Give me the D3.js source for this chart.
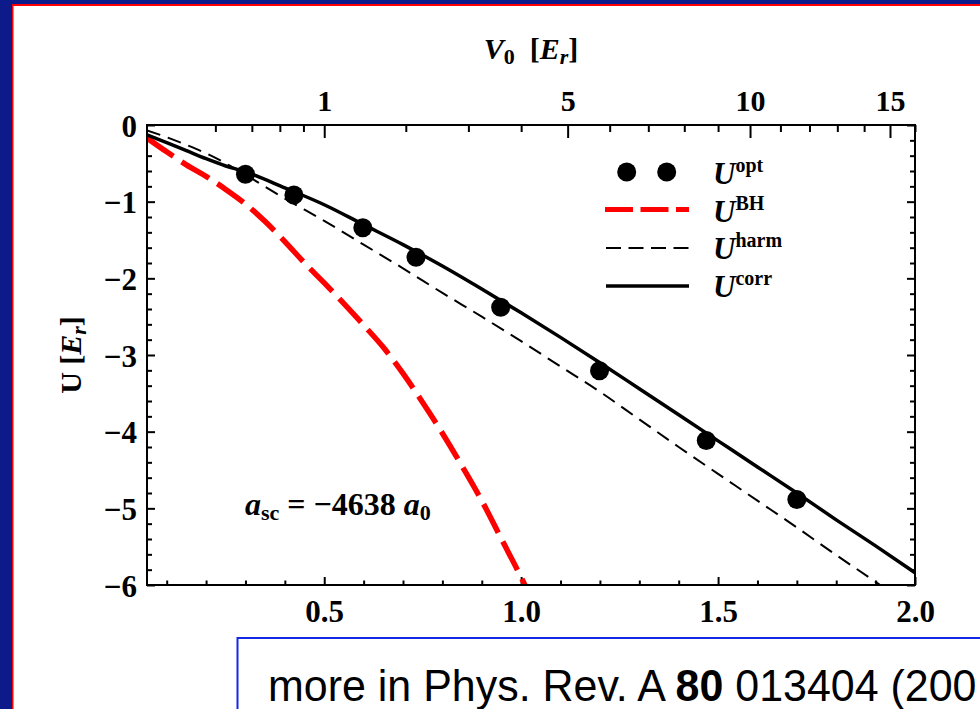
<!DOCTYPE html>
<html><head><meta charset="utf-8">
<script src="https://cdn.jsdelivr.net/npm/d3@7"></script>
<style>
html,body{margin:0;padding:0;background:#fff;}
svg{display:block;}
</style></head><body>
<svg id="chart" width="980" height="709"></svg>
<script>
// ---------- data ----------
const optX = [0.300, 0.423, 0.598, 0.733, 0.948, 1.199, 1.470, 1.700];
const optU = [-0.643, -0.913, -1.340, -1.726, -2.378, -3.205, -4.116, -4.885];

const corrX = [0.05, 0.1, 0.15, 0.2, 0.25, 0.3, 0.4, 0.5, 0.6, 0.7, 0.8, 0.9, 1.0, 1.1, 1.2, 1.3, 1.4, 1.5, 1.6, 1.7, 1.8, 1.9, 2.0];
const corrU = [-0.13, -0.23, -0.335, -0.44, -0.535, -0.61, -0.82, -1.04, -1.30, -1.56, -1.84, -2.14, -2.45, -2.77, -3.10, -3.44, -3.78, -4.12, -4.46, -4.80, -5.15, -5.49, -5.84];

const harmX = [0.05, 0.1, 0.15, 0.2, 0.25, 0.3, 0.4, 0.5, 0.6, 0.7, 0.8, 0.9, 1.0, 1.1, 1.2, 1.3, 1.4, 1.5, 1.6, 1.7, 1.8, 1.9, 1.95];
const harmU = [-0.07, -0.16, -0.26, -0.37, -0.50, -0.65, -0.96, -1.25, -1.56, -1.87, -2.19, -2.50, -2.82, -3.15, -3.48, -3.84, -4.20, -4.55, -4.90, -5.25, -5.61, -5.96, -6.14];

const bhX = [0.05, 0.1, 0.15, 0.2, 0.25, 0.3, 0.35, 0.4, 0.45, 0.5, 0.55, 0.6, 0.65, 0.7, 0.75, 0.8, 0.85, 0.9, 0.95, 1.0, 1.03];
const bhU = [-0.17, -0.35, -0.52, -0.67, -0.84, -1.03, -1.26, -1.52, -1.80, -2.06, -2.33, -2.61, -2.90, -3.24, -3.62, -4.02, -4.45, -4.90, -5.40, -5.90, -6.22];

const bottomMajor = [0.5, 1.0, 1.5, 2.0];
const bottomMinor = [0.1, 0.2, 0.3, 0.4, 0.6, 0.7, 0.8, 0.9, 1.1, 1.2, 1.3, 1.4, 1.6, 1.7, 1.8, 1.9];
const topMajor = [1, 5, 10, 15];
const topMinor = [0.2, 0.4, 0.6, 0.8, 2, 3, 4, 6, 7, 8, 9, 11, 12, 13, 14, 16];
const leftMajor = [0, -1, -2, -3, -4, -5, -6];
const leftMinor = [-0.2, -0.4, -0.6, -0.8, -1.2, -1.4, -1.6, -1.8, -2.2, -2.4, -2.6, -2.8, -3.2, -3.4, -3.6, -3.8, -4.2, -4.4, -4.6, -4.8, -5.2, -5.4, -5.6, -5.8];

const legendLabels = ["opt", "BH", "harm", "corr"];

// ---------- setup ----------
const W = 980, H = 709;
const svg = d3.select("#chart");
const serif = "'Liberation Serif','Times New Roman',serif";
const sans = "'Liberation Sans',Arial,sans-serif";

svg.append("rect").attr("width", W).attr("height", H).attr("fill", "#0c1a8a");
svg.append("rect").attr("x", 12).attr("y", 4).attr("width", W).attr("height", H).attr("fill", "#ff0000");
svg.append("rect").attr("x", 13.5).attr("y", 6).attr("width", W).attr("height", H).attr("fill", "#ffffff");

const L = 147, R = 915, T = 125, B = 585;
const x = d3.scaleLinear().domain([0.05, 2.0]).range([L, R]);
const y = d3.scaleLinear().domain([-6, 0]).range([B, T]);
const v = d3.scalePow().exponent(0.5).domain([0.01, 16]).range([L, R]);

function styleAxis(g, fs) {
  g.select(".domain").remove();
  g.attr("font-family", null).attr("font-size", null);
  g.selectAll(".tick line").attr("stroke", "#000").attr("stroke-width", 2);
  g.selectAll("text").attr("fill", "#000")
    .style("font-family", serif).style("font-weight", "bold").style("font-size", (fs || 31) + "px");
}
const minusFmt = d => d === 0 ? "0" : "\u2212" + Math.abs(d);

// bottom
svg.append("g").attr("transform", `translate(0,${B})`)
  .call(d3.axisBottom(x).tickValues(bottomMajor).tickFormat(d3.format(".1f")).tickSize(-8).tickPadding(15))
  .call(g => styleAxis(g));
svg.append("g").attr("transform", `translate(0,${B})`)
  .call(d3.axisBottom(x).tickValues(bottomMinor).tickFormat("").tickSize(-4.5))
  .call(g => styleAxis(g));
// top
svg.append("g").attr("transform", `translate(0,${T})`)
  .call(d3.axisTop(v).tickValues(topMajor).tickFormat(d3.format("d")).tickSize(-13).tickPadding(14))
  .call(g => styleAxis(g, 30));
svg.append("g").attr("transform", `translate(0,${T})`)
  .call(d3.axisTop(v).tickValues(topMinor).tickFormat("").tickSize(-7))
  .call(g => styleAxis(g));
// left
svg.append("g").attr("transform", `translate(${L},0)`)
  .call(d3.axisLeft(y).tickValues(leftMajor).tickFormat(minusFmt).tickSize(-8).tickPadding(10))
  .call(g => { styleAxis(g); g.selectAll("text").attr("dy", "0.36em"); });
svg.append("g").attr("transform", `translate(${L},0)`)
  .call(d3.axisLeft(y).tickValues(leftMinor).tickFormat("").tickSize(-5))
  .call(g => styleAxis(g));
// right
svg.append("g").attr("transform", `translate(${R},0)`)
  .call(d3.axisRight(y).tickValues(leftMajor).tickFormat("").tickSize(-8))
  .call(g => styleAxis(g));
svg.append("g").attr("transform", `translate(${R},0)`)
  .call(d3.axisRight(y).tickValues(leftMinor).tickFormat("").tickSize(-5))
  .call(g => styleAxis(g));

// clip
svg.append("clipPath").attr("id", "plotclip").append("rect")
  .attr("x", L).attr("y", T).attr("width", R - L).attr("height", B - T);

const plot = svg.append("g").attr("clip-path", "url(#plotclip)");
const line = d3.line().x(d => x(d[0])).y(d => y(d[1])).curve(d3.curveMonotoneX);

plot.append("path").datum(bhX.map((d, i) => [d, bhU[i]]))
  .attr("d", line).attr("fill", "none").attr("stroke", "#ff0000").attr("stroke-width", 5.5)
  .attr("stroke-dasharray", "32,10");
plot.append("path").datum(harmX.map((d, i) => [d, harmU[i]]))
  .attr("d", line).attr("fill", "none").attr("stroke", "#000").attr("stroke-width", 2)
  .attr("stroke-dasharray", "14,8");
plot.append("path").datum(corrX.map((d, i) => [d, corrU[i]]))
  .attr("d", line).attr("fill", "none").attr("stroke", "#000").attr("stroke-width", 3.5);

plot.selectAll("circle.opt").data(optX.map((d, i) => [d, optU[i]])).join("circle")
  .attr("class", "opt").attr("cx", d => x(d[0])).attr("cy", d => y(d[1])).attr("r", 9.5).attr("fill", "#000");

// frame
svg.append("rect").attr("x", L).attr("y", T).attr("width", R - L).attr("height", B - T)
  .attr("fill", "none").attr("stroke", "#000").attr("stroke-width", 2);

// legend
const lg = svg.append("g");
const lgY = [172, 209.5, 248, 286];
const lgText = [184, 221.5, 259, 296.5];
lg.selectAll("circle").data([626.7, 666.7]).join("circle")
  .attr("cx", d => d).attr("cy", lgY[0]).attr("r", 9.5).attr("fill", "#000");
lg.append("line").attr("x1", 605).attr("x2", 689).attr("y1", lgY[1]).attr("y2", lgY[1])
  .attr("stroke", "#ff0000").attr("stroke-width", 5).attr("stroke-dasharray", "28,7.5");
lg.append("line").attr("x1", 606).attr("x2", 689).attr("y1", lgY[2]).attr("y2", lgY[2])
  .attr("stroke", "#000").attr("stroke-width", 2).attr("stroke-dasharray", "15,7.5");
lg.append("line").attr("x1", 606).attr("x2", 689).attr("y1", lgY[3]).attr("y2", lgY[3])
  .attr("stroke", "#000").attr("stroke-width", 3.5);
legendLabels.forEach((lab, i) => {
  const t = lg.append("text").attr("x", 713).attr("y", lgText[i])
    .style("font-family", serif).style("font-weight", "bold").style("font-size", "31px").attr("fill", "#000");
  t.append("tspan").style("font-style", "italic").text("U");
  t.append("tspan").attr("dy", -12).style("font-size", "20px").text(lab);
});

// annotation
const an = svg.append("text").attr("x", 245).attr("y", 515)
  .style("font-family", serif).style("font-weight", "bold").style("font-size", "32px").attr("fill", "#000");
an.append("tspan").style("font-style", "italic").text("a");
an.append("tspan").attr("dy", 5).style("font-size", "22px").text("sc");
an.append("tspan").attr("dy", -5).text(" = \u22124638 ");
an.append("tspan").style("font-style", "italic").text("a");
an.append("tspan").attr("dy", 5).style("font-size", "22px").text("0");

// top title
const tt = svg.append("text").attr("x", 531).attr("y", 59).attr("text-anchor", "middle")
  .style("font-family", serif).style("font-weight", "bold").style("font-size", "30px").attr("fill", "#000");
tt.append("tspan").style("font-style", "italic").text("V");
tt.append("tspan").attr("dy", 5).style("font-size", "22px").text("0");
tt.append("tspan").attr("dy", -5).text("\u2002[");
tt.append("tspan").style("font-style", "italic").text("E");
tt.append("tspan").attr("dy", 5).style("font-size", "22px").style("font-style", "italic").text("r");
tt.append("tspan").attr("dy", -5).text("]");

// y label
const yl = svg.append("text").attr("transform", "translate(81,355) rotate(-90)").attr("text-anchor", "middle")
  .style("font-family", serif).style("font-weight", "bold").style("font-size", "30px").attr("fill", "#000");
yl.append("tspan").text("U [");
yl.append("tspan").style("font-style", "italic").text("E");
yl.append("tspan").attr("dy", 5).style("font-size", "22px").style("font-style", "italic").text("r");
yl.append("tspan").attr("dy", -5).text("]");

// reference box (the slide crops it at the right edge)
svg.append("rect").attr("x", 237.5).attr("y", 638).attr("width", 800).attr("height", 120)
  .attr("fill", "none").attr("stroke", "#1428e6").attr("stroke-width", 2);
const rt = svg.append("text").attr("transform", "translate(268,701) scale(0.955,1)")
  .style("font-family", sans).style("font-size", "45px").attr("fill", "#000");
rt.append("tspan").text("more in Phys. Rev. A ");
rt.append("tspan").style("font-weight", "bold").text("80");
rt.append("tspan").text(" 013404 (200");
</script>
</body></html>
